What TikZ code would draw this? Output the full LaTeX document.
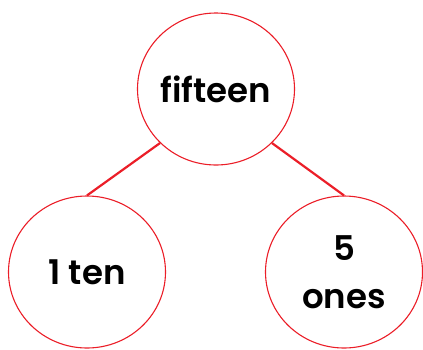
\documentclass[tikz,border=0pt]{standalone}
\usepackage{fontspec}
\setmainfont{Poppins}[BoldFont={Poppins SemiBold}]
\usetikzlibrary{shapes.geometric}
\definecolor{cred}{RGB}{235,30,40}
\begin{document}
\begin{tikzpicture}[x=1pt,y=-1pt,
  bubble/.style={ellipse,draw=cred,line width=1.1pt,minimum width=157pt,minimum height=152pt,inner sep=0pt,
    font=\fontsize{34}{48}\selectfont\bfseries,align=center,text=black},
  link/.style={draw=cred,line width=2.2pt}]
\useasboundingbox (0,0) rectangle (423,349);
\node[bubble] (top) at (216,89) {fifteen};
\node[bubble] (left) at (87,272) {1 ten};
\node[bubble] (right) at (344,272) {5\\ones};
\draw[link] (top.-136) -- (left.north);
\draw[link] (top.-44) -- (right.north);
\end{tikzpicture}
\end{document}
